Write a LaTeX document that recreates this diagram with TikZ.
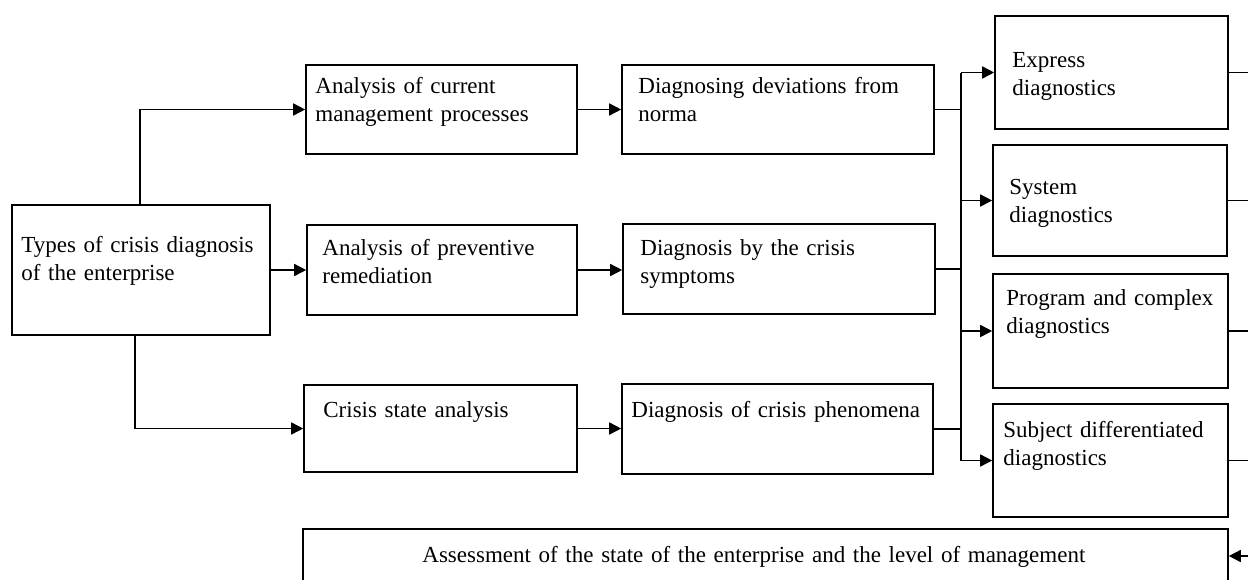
\documentclass[tikz,border=0pt]{standalone}
\usepackage{fontspec}
\setmainfont{Liberation Serif}
\usetikzlibrary{arrows.meta}
\tikzset{
  box/.style={draw, line width=0.8pt, inner sep=0pt, rectangle},
  txt/.style={inner sep=0pt, anchor=base west, text width=240pt, align=left,
              font=\fontsize{11.5}{14.2}\selectfont},
  conn/.style={line width=0.8pt},
  arr/.style={line width=0.8pt, -{Triangle[length=6pt,width=6pt]}}
}
\begin{document}
\begin{tikzpicture}[x=0.5pt,y=-0.5pt]
\clip (0,0) rectangle (1248,579);
\fill[white] (0,0) rectangle (1248,579);
% boxes
\node[box, minimum width=129pt, minimum height=65pt] (L) at (141,270) {};
\node[box, minimum width=135.5pt, minimum height=44.5pt] (P1) at (441.5,109.5) {};
\node[box, minimum width=135pt, minimum height=45pt] (P2) at (442,270) {};
\node[box, minimum width=136.5pt, minimum height=43.5pt] (P3) at (440.5,428.5) {};
\node[box, minimum width=156pt, minimum height=44.5pt] (D1) at (778,109.5) {};
\node[box, minimum width=156pt, minimum height=45pt] (D2) at (779,269) {};
\node[box, minimum width=155.5pt, minimum height=45pt] (D3) at (777.5,429) {};
\node[box, minimum width=116.5pt, minimum height=56.5pt] (R1) at (1111.5,72.5) {};
\node[box, minimum width=117pt, minimum height=55.5pt] (R2) at (1110,200.5) {};
\node[box, minimum width=117.5pt, minimum height=57pt] (R3) at (1110.5,331) {};
\node[box, minimum width=117.5pt, minimum height=56.5pt] (R4) at (1110.5,460.5) {};
\node[box, minimum width=462.5pt, minimum height=40.5pt] (B) at (765.5,569.5) {};
% texts
\node[txt] (tL) at (21,252) {Types of crisis diagnosis\\of the enterprise};
\node[txt] (tP1) at (315,93) {Analysis of current\\management processes};
\node[txt] (tP2) at (322,255) {Analysis of preventive\\remediation};
\node[txt] (tP3) at (323,417) {Crisis state analysis};
\node[txt] (tD1) at (638,93) {Diagnosing deviations from\\norma};
\node[txt] (tD2) at (640,255) {Diagnosis by the crisis\\symptoms};
\node[txt] (tD3) at (631,417) {Diagnosis of crisis phenomena};
\node[txt] (tR1) at (1012,67) {Express\\diagnostics};
\node[txt] (tR2) at (1009,194) {System\\diagnostics};
\node[txt] (tR3) at (1006,305) {Program and complex\\diagnostics};
\node[txt] (tR4) at (1003,437) {Subject differentiated\\diagnostics};
\node[txt, text width=420pt] (tB) at (422,562) {Assessment of the state of the enterprise and the level of management};
% coordinates
\coordinate (up) at (140,109.5);
\coordinate (dn) at (135,428.5);
\coordinate (bt) at (961,72.5);
\coordinate (bb) at (961,460.5);
\coordinate (edge) at (1248,0);
\coordinate (bin) at (1248,556);
% connectors, left part
\draw[arr] (L.north -| up) -- (up) -- (P1.west);
\draw[arr] (L.east) -- (P2.west);
\draw[arr] (L.south -| dn) -- (dn) -- (P3.west);
\draw[arr] (P1.east) -- (P1.east -| D1.west);
\draw[arr] (P2.east) -- (P2.east -| D2.west);
\draw[arr] (P3.east) -- (P3.east -| D3.west);
% bus
\draw[conn] (bt) -- (bb);
\draw[conn] (D1.east) -- (D1.east -| bt);
\draw[conn] (D2.east) -- (D2.east -| bt);
\draw[conn] (D3.east) -- (D3.east -| bt);
\draw[arr] (R1.west -| bt) -- (R1.west);
\draw[arr] (R2.west -| bt) -- (R2.west);
\draw[arr] (R3.west -| bt) -- (R3.west);
\draw[arr] (R4.west -| bt) -- (R4.west);
% right edge
\draw[conn] (R1.east) -- (R1.east -| edge);
\draw[conn] (R2.east) -- (R2.east -| edge);
\draw[conn] (R3.east) -- (R3.east -| edge);
\draw[conn] (R4.east) -- (R4.east -| edge);
\draw[arr] (bin) -- (bin -| B.east);
\end{tikzpicture}
\end{document}
